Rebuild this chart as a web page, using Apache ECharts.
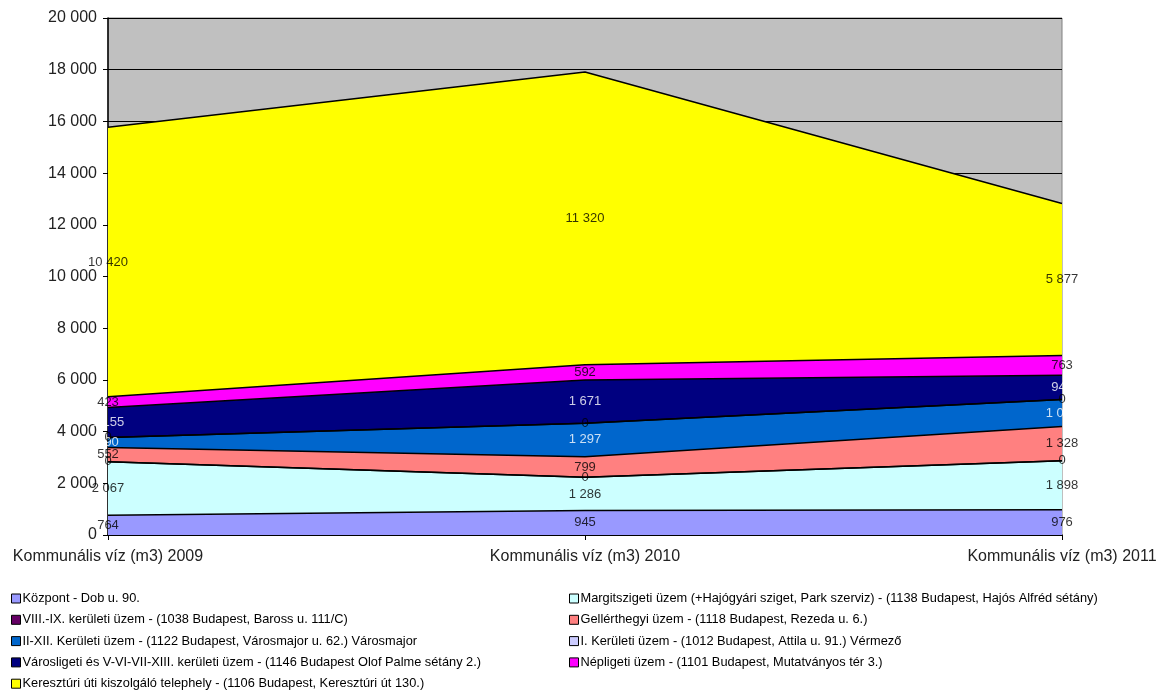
<!DOCTYPE html>
<html>
<head>
<meta charset="utf-8">
<script src="https://cdn.jsdelivr.net/npm/echarts@6/dist/echarts.min.js"></script>
<style>
  html, body { margin: 0; padding: 0; background: #fff; }
  #chart { width: 1175px; height: 692px; }
</style>
</head>
<body>
<div id="chart"></div>
<script>
// categories (x axis)
const categories = ['Kommunális víz (m3) 2009', 'Kommunális víz (m3) 2010', 'Kommunális víz (m3) 2011']

// series names, in stack order (bottom -> top)
const seriesNames = [
  'Központ - Dob u. 90.',
  'Margitszigeti üzem (+Hajógyári sziget, Park szerviz) - (1138 Budapest, Hajós Alfréd sétány)',
  'VIII.-IX. kerületi üzem - (1038 Budapest, Baross u. 111/C)',
  'Gellérthegyi üzem - (1118 Budapest, Rezeda u. 6.)',
  'II-XII. Kerületi üzem - (1122 Budapest, Városmajor u. 62.) Városmajor',
  'I. Kerületi üzem - (1012 Budapest, Attila u. 91.) Vérmező',
  'Városligeti és V-VI-VII-XIII. kerületi üzem - (1146 Budapest Olof Palme sétány 2.)',
  'Népligeti üzem - (1101 Budapest, Mutatványos tér 3.)',
  'Keresztúri úti kiszolgáló telephely - (1106 Budapest, Keresztúri út 130.)'
]

// values per series
const kozpont = [764, 945, 976]
const margitsziget = [2067, 1286, 1898]
const nyolcKilenc = [0, 0, 0]
const gellerthegy = [552, 799, 1328]
const ketTizenketto = [390, 1297, 1035]
const elsoKerulet = [0, 0, 0]
const varosliget = [1155, 1671, 945]
const nepliget = [423, 592, 763]
const keresztur = [10420, 11320, 5877]

const seriesValues = [kozpont, margitsziget, nyolcKilenc, gellerthegy, ketTizenketto, elsoKerulet, varosliget, nepliget, keresztur]

// y axis ticks
const yMin = 0
const yMax = 20000
const yStep = 2000

const colors = ['#9999ff', '#ccffff', '#660066', '#ff8080', '#0066cc', '#ccccff', '#000080', '#ff00ff', '#ffff00']
const labelColors = ['#000', '#000', '#000', '#000', '#fff', '#000', '#fff', '#000', '#000']

const font = 'Liberation Sans, Arial, sans-serif'

function fmt (n) {
  return String(n).replace(/\B(?=(\d{3})+(?!\d))/g, ' ')
}

const chart = echarts.init(document.getElementById('chart'))

const series = []
seriesNames.forEach((name, i) => {
  series.push({
    name: name,
    type: 'line',
    stack: 'total',
    symbol: 'none',
    data: seriesValues[i],
    lineStyle: { color: '#000', width: 1.5 },
    itemStyle: { color: colors[i] },
    areaStyle: { color: colors[i], opacity: 1 },
    z: 2
  })
})

// data labels in the middle of each band
const base = [0, 0, 0]
seriesValues.forEach((vals, i) => {
  const pts = vals.map((v, j) => {
    const mid = base[j] + v / 2
    base[j] += v
    return { value: [j, mid], raw: v }
  })
  series.push({
    name: 'lbl' + i,
    type: 'scatter',
    symbolSize: 0,
    silent: true,
    z: 5,
    data: pts,
    label: {
      show: true,
      position: 'inside',
      color: labelColors[i],
      fontFamily: font,
      fontSize: 13,
      formatter: p => fmt(p.data.raw)
    }
  })
})

const legendCommon = {
  orient: 'vertical',
  top: 587,
  height: 120,
  itemGap: 8.3,
  itemWidth: 9,
  itemHeight: 9,
  icon: 'rect',
  itemStyle: { borderColor: '#000', borderWidth: 1 },
  textStyle: { fontFamily: font, fontSize: 12.8, color: '#000', padding: [0, 0, 0, -3] },
  selectedMode: false
}

chart.setOption({
  animation: false,
  grid: {
    left: 108,
    right: 113,
    top: 18,
    bottom: 157,
    show: true,
    backgroundColor: '#c0c0c0',
    borderColor: '#808080',
    borderWidth: 1
  },
  legend: [
    Object.assign({ left: 6, data: [seriesNames[0], seriesNames[2], seriesNames[4], seriesNames[6], seriesNames[8]] }, legendCommon),
    Object.assign({ left: 564, data: [seriesNames[1], seriesNames[3], seriesNames[5], seriesNames[7]] }, legendCommon)
  ],
  xAxis: {
    type: 'category',
    data: categories,
    boundaryGap: false,
    axisLine: { lineStyle: { color: '#000', width: 1.5 } },
    axisTick: { show: true, length: 5, lineStyle: { color: '#000' } },
    axisLabel: {
      color: '#222',
      fontFamily: font,
      fontSize: 16,
      margin: 14
    },
    splitLine: { show: false }
  },
  yAxis: {
    type: 'value',
    min: yMin,
    max: yMax,
    interval: yStep,
    axisLine: { show: true, lineStyle: { color: '#000', width: 1.5 } },
    axisTick: { show: true, length: 5, lineStyle: { color: '#000' } },
    axisLabel: {
      color: '#222',
      fontFamily: font,
      fontSize: 16,
      margin: 11,
      formatter: v => fmt(v)
    },
    splitLine: { show: true, lineStyle: { color: '#000', width: 1 } }
  },
  series: series
})
</script>
</body>
</html>
